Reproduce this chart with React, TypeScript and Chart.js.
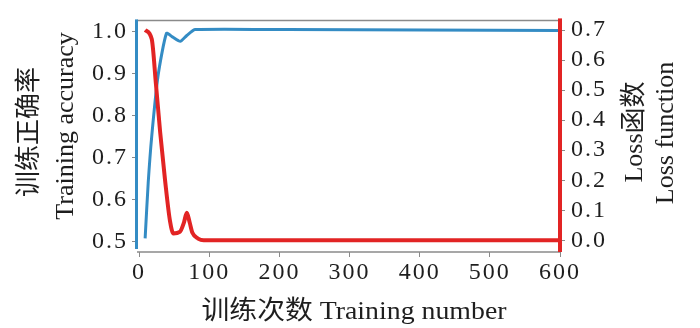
import React, { useEffect, useRef } from "react";
import { Chart, registerables } from "chart.js";

Chart.register(...registerables);

// ---- data ----
const accIter = [8.6, 13, 18, 27, 39, 48, 58.6, 68, 80, 210, 600];
const accuracy = [0.507, 0.64, 0.75, 0.894, 0.995, 0.986, 0.976, 0.99, 1.004, 1.004, 1.002];
const lossIter = [8.6, 18, 24, 30, 37, 44, 49, 58, 64, 68, 72, 76, 84, 92, 600];
const loss = [0.7, 0.67, 0.52, 0.36, 0.2, 0.065, 0.023, 0.028, 0.06, 0.092, 0.06, 0.025, 0.006, 0.0, 0.0];
const xTicks = [0, 100, 200, 300, 400, 500, 600];
const accTicks = [0.5, 0.6, 0.7, 0.8, 0.9, 1.0];
const lossTicks = [0.0, 0.1, 0.2, 0.3, 0.4, 0.5, 0.6, 0.7];

const xTitle = "训练次数 Training number";
const leftTitle = ["训练正确率", "Training accuracy"];
const rightTitle = ["Loss函数", "Loss function"];

const BLUE = "rgb(52,140,196)";
const RED = "rgb(226,36,36)";
const GRAY = "#8a8a8a";
const TEXT = "#1e1e1e";
const FONT = "'Liberation Serif', 'Noto Sans CJK SC', serif";

const framePlugin = {
  id: "frame",
  beforeDraw(chart: any) {
    chart.ctx.letterSpacing = "2px";
  },
  afterDatasetsDraw(chart: any) {
    const { ctx, chartArea: a } = chart;
    ctx.save();
    ctx.strokeStyle = GRAY;
    ctx.lineWidth = 1.5;
    ctx.beginPath();
    ctx.moveTo(a.left, a.top);
    ctx.lineTo(a.right, a.top);
    ctx.moveTo(a.left, a.bottom);
    ctx.lineTo(a.right, a.bottom);
    ctx.stroke();
    ctx.strokeStyle = BLUE;
    ctx.lineWidth = 3;
    ctx.beginPath();
    ctx.moveTo(a.left - 0.5, a.top - 1);
    ctx.lineTo(a.left - 0.5, a.bottom - 3);
    ctx.stroke();
    ctx.strokeStyle = RED;
    ctx.lineWidth = 4;
    ctx.beginPath();
    ctx.moveTo(a.right, a.top - 2);
    ctx.lineTo(a.right, a.bottom);
    ctx.stroke();
    ctx.restore();
  },
  afterDraw(chart: any) {
    const { ctx } = chart;
    ctx.letterSpacing = "0px";
    ctx.save();
    ctx.fillStyle = TEXT;
    ctx.font = `26px ${FONT}`;
    ctx.textAlign = "center";
    ctx.textBaseline = "middle";
    // x title
    ctx.save();
    ctx.translate(354, 312);
    ctx.scale(1.07, 1);
    ctx.fillText(xTitle, 0, 0);
    ctx.restore();
    // left titles
    const lx = [30, 66];
    const ly = [132, 126];
    leftTitle.forEach((t, i) => {
      ctx.save();
      ctx.translate(lx[i], ly[i]);
      ctx.rotate(-Math.PI / 2);
      ctx.fillText(t, 0, 0);
      ctx.restore();
    });
    const rx = [635, 666];
    const ry = [132, 133];
    rightTitle.forEach((t, i) => {
      ctx.save();
      ctx.translate(rx[i], ry[i]);
      ctx.rotate(-Math.PI / 2);
      ctx.fillText(t, 0, 0);
      ctx.restore();
    });
    ctx.restore();
  },
};

export default function App() {
  const ref = useRef<HTMLCanvasElement | null>(null);
  useEffect(() => {
    if (!ref.current) return;
    const tickFont = { family: FONT, size: 24 };
    const chart = new Chart(ref.current, {
      type: "line",
      data: {
        datasets: [
          {
            label: "accuracy",
            data: accIter.map((x, i) => ({ x, y: accuracy[i] })),
            borderColor: BLUE,
            borderWidth: 3,
            pointRadius: 0,
            tension: 0.2,
            yAxisID: "y",
            order: 2,
          },
          {
            label: "loss",
            data: lossIter.map((x, i) => ({ x, y: loss[i] })),
            borderColor: RED,
            borderWidth: 4,
            pointRadius: 0,
            cubicInterpolationMode: "monotone",
            yAxisID: "y2",
            order: 1,
          },
        ],
      },
      options: {
        responsive: false,
        animation: false,
        layout: { padding: { top: 13, left: 0, right: 0, bottom: 0 } },
        plugins: { legend: { display: false }, tooltip: { enabled: false } },
        scales: {
          x: {
            type: "linear",
            min: -3,
            max: 600,
            afterBuildTicks: (s: any) => { s.ticks = xTicks.map((v) => ({ value: v })); },
            afterFit: (s: any) => { s.height = 76; },
            ticks: { font: tickFont, color: TEXT, padding: 1, maxRotation: 0, callback: (v: any) => String(v) },
            grid: { drawOnChartArea: false, drawTicks: true, tickLength: 5, color: GRAY },
            border: { display: false },
          },
          y: {
            type: "linear",
            position: "left",
            min: 0.4746,
            max: 1.0259,
            afterBuildTicks: (s: any) => { s.ticks = accTicks.map((v) => ({ value: v })); },
            afterFit: (s: any) => { s.width = 137; },
            ticks: { font: tickFont, color: TEXT, padding: 4, callback: (v: any) => Number(v).toFixed(1) },
            grid: { drawOnChartArea: false, drawTicks: true, tickLength: 5, color: GRAY },
            border: { display: false },
          },
          y2: {
            type: "linear",
            position: "right",
            min: -0.0388,
            max: 0.732,
            afterBuildTicks: (s: any) => { s.ticks = lossTicks.map((v) => ({ value: v })); },
            afterFit: (s: any) => { s.width = 140; },
            ticks: { font: tickFont, color: TEXT, padding: 6, callback: (v: any) => Number(v).toFixed(1) },
            grid: { drawOnChartArea: false, drawTicks: true, tickLength: 5, color: GRAY },
            border: { display: false },
          },
        },
      },
      plugins: [framePlugin],
    } as any);
    return () => chart.destroy();
  }, []);
  return (
    <div style={{ position: "fixed", left: 0, top: 0, width: 700, height: 328, background: "#fff" }}>
      <canvas ref={ref} width={700} height={328} />
    </div>
  );
}
